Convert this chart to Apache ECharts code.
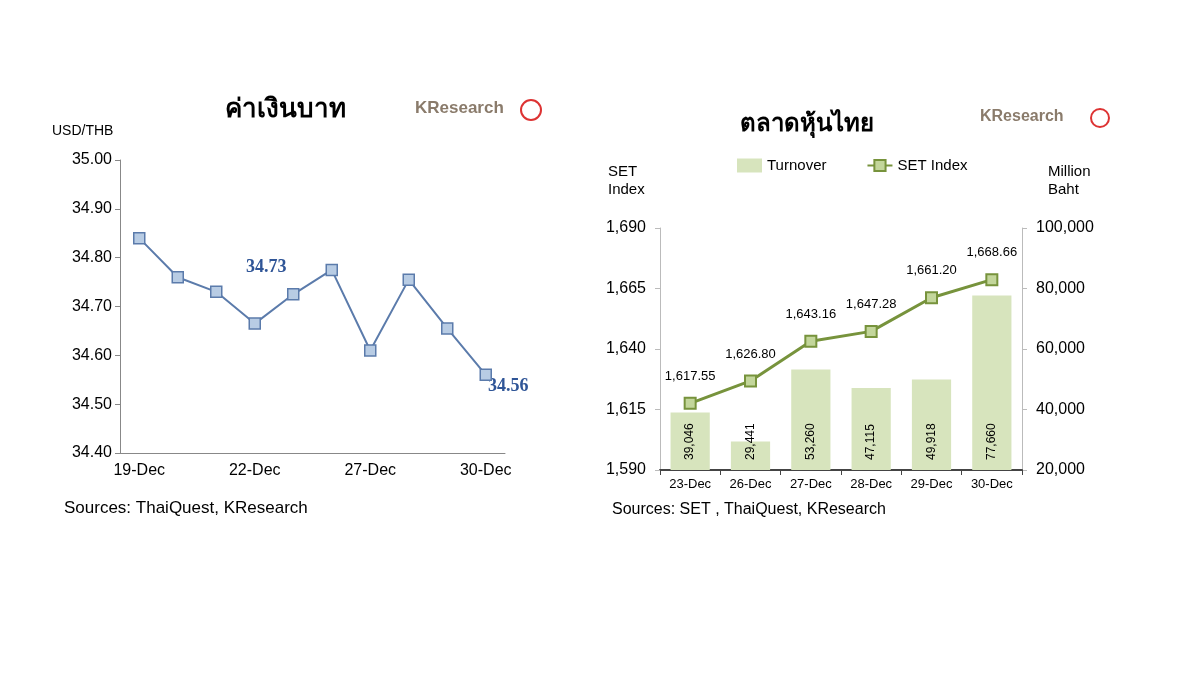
<!DOCTYPE html><html><head><meta charset="utf-8"><script src="https://cdn.jsdelivr.net/npm/echarts@6/dist/echarts.min.js"></script>
<style>html,body{margin:0;background:#fff}#c{width:1200px;height:675px}</style></head><body><div id="c"></div><script>
const fxDates=['19-Dec','20-Dec','21-Dec','22-Dec','23-Dec','26-Dec','27-Dec','28-Dec','29-Dec','30-Dec'];
const fxValues=[34.84,34.76,34.73,34.665,34.725,34.775,34.61,34.755,34.655,34.56];
const setDates=['23-Dec','26-Dec','27-Dec','28-Dec','29-Dec','30-Dec'];
const setIndex=[1617.55,1626.80,1643.16,1647.28,1661.20,1668.66];
const turnover=[39046,29441,53260,47115,49918,77660];
const c=echarts.init(document.getElementById('c'));
const F='Liberation Sans';
const fmt=v=>v.toLocaleString('en-US',{minimumFractionDigits:2,maximumFractionDigits:2});
c.setOption({animation:false,textStyle:{fontFamily:F},
graphic:[
{type:'text',left:225,top:97,style:{text:'ค่าเงินบาท',font:'bold 26px "Noto Sans"',fill:'#000'}},
{type:'text',left:740,top:112,style:{text:'ตลาดหุ้นไทย',font:'bold 24px "Noto Sans"',fill:'#000'}},
{type:'text',left:415,top:100,style:{text:'KResearch',font:'bold 17px "Liberation Sans"',fill:'#8a7b6b'}},
{type:'circle',shape:{cx:531,cy:110,r:10},style:{fill:'#fff',stroke:'#d33',lineWidth:2}},
{type:'text',left:980,top:109,style:{text:'KResearch',font:'bold 16px "Liberation Sans"',fill:'#8a7b6b'}},
{type:'circle',shape:{cx:1100,cy:118,r:9},style:{fill:'#fff',stroke:'#d33',lineWidth:2}},
{type:'text',left:52,top:124,style:{text:'USD/THB',font:'14px "Liberation Sans"',fill:'#000'}},
{type:'text',left:64,top:500,style:{text:'Sources: ThaiQuest, KResearch',font:'17px "Liberation Sans"',fill:'#000'}},
{type:'text',left:612,top:502,style:{text:'Sources: SET , ThaiQuest, KResearch',font:'16px "Liberation Sans"',fill:'#000'}},
{type:'text',left:608,top:163,style:{text:'SET\nIndex',font:'15px "Liberation Sans"',fill:'#000',lineHeight:18}},
{type:'text',left:1048,top:163,style:{text:'Million\nBaht',font:'15px "Liberation Sans"',fill:'#000',lineHeight:18}},
{type:'text',left:246,top:258,style:{text:'34.73',font:'bold 18px "Liberation Serif"',fill:'#2f5597'}},
{type:'text',left:488,top:377,style:{text:'34.56',font:'bold 18px "Liberation Serif"',fill:'#2f5597'}}
],
legend:{top:153,left:732,itemGap:40,textStyle:{fontSize:15,color:'#000'},data:[{name:'Turnover',icon:'rect',itemWidth:50,itemHeight:12},{name:'SET Index',itemWidth:50}]},
grid:[{left:120,right:695,top:160,bottom:222},{left:660,right:178,top:228,bottom:205}],
xAxis:[
{gridIndex:0,type:'category',data:fxDates,boundaryGap:true,axisLine:{lineStyle:{color:'#888'}},axisTick:{interval:2,inside:true},axisLabel:{interval:2,color:'#000',fontSize:16,margin:10}},
{gridIndex:1,type:'category',data:setDates,axisLine:{lineStyle:{color:'#444',width:2}},axisTick:{show:true,lineStyle:{color:'#444'}},axisLabel:{color:'#000',fontSize:13}}],
yAxis:[
{gridIndex:0,min:34.4,max:35,interval:0.1,axisLine:{show:true,lineStyle:{color:'#888'}},axisTick:{show:true},splitLine:{show:false},axisLabel:{formatter:v=>v.toFixed(2),color:'#000',fontSize:16}},
{gridIndex:1,min:1590,max:1690,interval:25,axisLine:{show:true,lineStyle:{color:'#bbb'}},axisTick:{show:true},splitLine:{show:false},axisLabel:{formatter:v=>v.toLocaleString('en-US'),color:'#000',fontSize:16,margin:14}},
{gridIndex:1,position:'right',min:20000,max:100000,interval:20000,axisLine:{show:true,lineStyle:{color:'#bbb'}},axisTick:{show:true},splitLine:{show:false},axisLabel:{formatter:v=>v.toLocaleString('en-US'),color:'#000',fontSize:16,margin:14}}],
series:[
{type:'line',xAxisIndex:0,yAxisIndex:0,data:fxValues,symbol:'rect',symbolSize:11,lineStyle:{color:'#5b7bab',width:2},itemStyle:{color:'#b8cce4',borderColor:'#5b7bab',borderWidth:1.5}},
{name:'Turnover',type:'bar',xAxisIndex:1,yAxisIndex:2,data:turnover,barWidth:'65%',itemStyle:{color:'#d7e4bd'},label:{show:true,position:'insideBottom',rotate:90,align:'left',verticalAlign:'middle',distance:10,fontSize:12,color:'#000',formatter:p=>p.value.toLocaleString('en-US')}},
{name:'SET Index',type:'line',xAxisIndex:1,yAxisIndex:1,data:setIndex,symbol:'rect',symbolSize:11,lineStyle:{color:'#77933c',width:3},itemStyle:{color:'#c3d69b',borderColor:'#77933c',borderWidth:2},label:{show:true,position:'top',distance:14,fontSize:13,color:'#000',formatter:p=>fmt(p.value)}}
]});
</script></body></html>
